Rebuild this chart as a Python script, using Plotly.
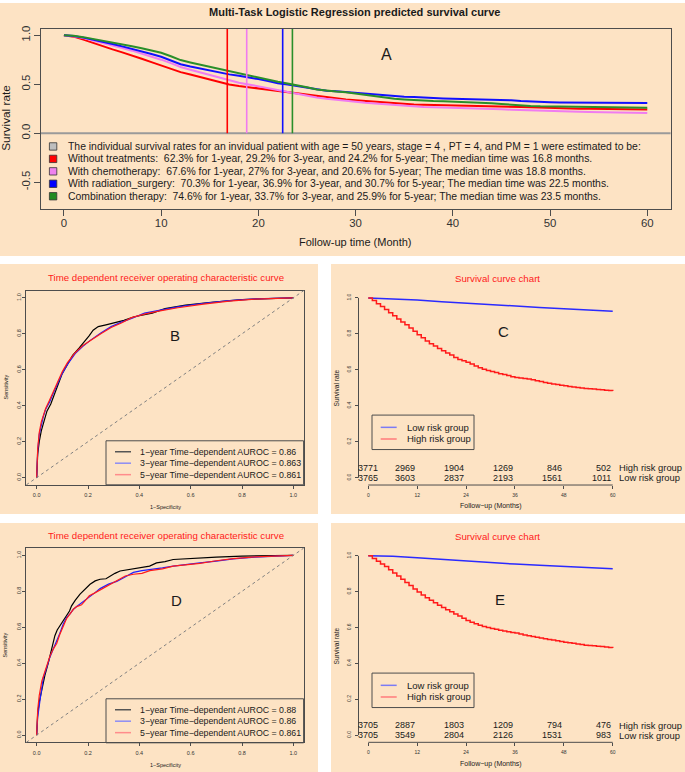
import plotly.graph_objects as go

W, H = 685, 772
FONT = "Liberation Sans, Arial, Helvetica, sans-serif"
BISQUE = "#FDE3C4"
AXC = "#4d4d4d"
TXT = "#1a1a1a"

# ---------------- Panel A data ----------------
months = list(range(61))
surv_none = [1.000, 0.985, 0.955, 0.920, 0.885, 0.855, 0.825, 0.795, 0.760, 0.725, 0.690, 0.655, 0.623,
             0.598, 0.573, 0.548, 0.522, 0.497, 0.482, 0.469, 0.457, 0.445, 0.432, 0.420, 0.408, 0.393,
             0.375, 0.362, 0.352, 0.343, 0.336, 0.328, 0.320, 0.312, 0.305, 0.298, 0.292, 0.290, 0.288,
             0.287, 0.286, 0.285, 0.284, 0.282, 0.280, 0.276, 0.272, 0.268, 0.264, 0.260, 0.256, 0.253,
             0.251, 0.250, 0.249, 0.248, 0.247, 0.246, 0.245, 0.243, 0.242]
surv_chemo = [1.000, 0.990, 0.972, 0.948, 0.922, 0.896, 0.870, 0.842, 0.813, 0.783, 0.750, 0.715, 0.676,
              0.648, 0.620, 0.592, 0.565, 0.540, 0.515, 0.497, 0.478, 0.460, 0.440, 0.418, 0.398, 0.380,
              0.365, 0.352, 0.340, 0.330, 0.320, 0.310, 0.302, 0.295, 0.287, 0.278, 0.270, 0.268, 0.266,
              0.264, 0.262, 0.260, 0.258, 0.255, 0.250, 0.245, 0.240, 0.236, 0.232, 0.228, 0.224, 0.222,
              0.220, 0.218, 0.216, 0.214, 0.212, 0.210, 0.209, 0.208, 0.206]
surv_rad = [1.000, 0.992, 0.975, 0.955, 0.933, 0.910, 0.886, 0.862, 0.836, 0.808, 0.780, 0.742, 0.703,
            0.680, 0.658, 0.638, 0.618, 0.600, 0.585, 0.570, 0.552, 0.532, 0.510, 0.497, 0.480, 0.460,
            0.442, 0.432, 0.428, 0.420, 0.410, 0.400, 0.392, 0.385, 0.378, 0.373, 0.369, 0.362, 0.357,
            0.355, 0.352, 0.350, 0.348, 0.346, 0.344, 0.340, 0.335, 0.328, 0.322, 0.318, 0.316, 0.314,
            0.313, 0.312, 0.312, 0.311, 0.310, 0.309, 0.309, 0.308, 0.307]
surv_combo = [1.000, 0.994, 0.980, 0.963, 0.945, 0.927, 0.908, 0.888, 0.866, 0.843, 0.820, 0.785, 0.746,
              0.722, 0.700, 0.678, 0.655, 0.632, 0.612, 0.590, 0.568, 0.545, 0.525, 0.508, 0.490, 0.468,
              0.445, 0.432, 0.425, 0.418, 0.405, 0.390, 0.375, 0.360, 0.352, 0.345, 0.337, 0.332, 0.328,
              0.325, 0.322, 0.318, 0.314, 0.310, 0.305, 0.298, 0.290, 0.283, 0.278, 0.274, 0.272, 0.270,
              0.269, 0.268, 0.267, 0.266, 0.265, 0.263, 0.262, 0.260, 0.259]
medians = [16.8, 18.8, 22.5, 23.5]
a_colors = ["#FF0000", "#F07CF0", "#1010FF", "#2A8F2A"]
a_legend_colors = ["#BEBEBE", "#FF0000", "#EE82EE", "#0000FF", "#228B22"]
a_legend_text = [
    "The individual survival rates for an invidual patient with age = 50 years, stage = 4 , PT = 4, and PM = 1 were estimated to be:",
    "Without treatments:  62.3% for 1-year, 29.2% for 3-year, and 24.2% for 5-year; The median time was 16.8 months.",
    "With chemotherapy:  67.6% for 1-year, 27% for 3-year, and 20.6% for 5-year; The median time was 18.8 months.",
    "With radiation_surgery:  70.3% for 1-year, 36.9% for 3-year, and 30.7% for 5-year; The median time was 22.5 months.",
    "Combination therapy:  74.6% for 1-year, 33.7% for 3-year, and 25.9% for 5-year; The median time was 23.5 months.",
]

# ---------------- ROC data (B and D) ----------------
b1_fpr = [0, 0.004, 0.01, 0.018, 0.028, 0.04, 0.055, 0.07, 0.085, 0.1, 0.12, 0.14, 0.165, 0.19, 0.205,
          0.22, 0.24, 0.27, 0.3, 0.34, 0.38, 0.42, 0.45, 0.5, 0.58, 0.68, 0.8, 0.9, 1.0]
b1_tpr = [0, 0.13, 0.2, 0.26, 0.31, 0.37, 0.41, 0.47, 0.53, 0.58, 0.63, 0.68, 0.72, 0.76, 0.79,
          0.82, 0.84, 0.85, 0.86, 0.875, 0.895, 0.905, 0.915, 0.94, 0.96, 0.975, 0.99, 0.996, 1.0]
b3_fpr = [0, 0.004, 0.01, 0.018, 0.026, 0.035, 0.05, 0.065, 0.08, 0.1, 0.12, 0.15, 0.18, 0.21, 0.25,
          0.29, 0.33, 0.37, 0.42, 0.47, 0.55, 0.65, 0.75, 0.85, 1.0]
b3_tpr = [0, 0.15, 0.24, 0.3, 0.34, 0.38, 0.42, 0.47, 0.52, 0.58, 0.63, 0.69, 0.73, 0.765, 0.805,
          0.84, 0.865, 0.885, 0.915, 0.93, 0.95, 0.97, 0.985, 0.994, 1.0]
b5_fpr = [0, 0.004, 0.01, 0.018, 0.026, 0.035, 0.05, 0.065, 0.08, 0.1, 0.12, 0.15, 0.18, 0.21, 0.25,
          0.29, 0.33, 0.37, 0.42, 0.47, 0.55, 0.65, 0.75, 0.85, 1.0]
b5_tpr = [0, 0.16, 0.25, 0.31, 0.345, 0.385, 0.43, 0.48, 0.53, 0.59, 0.64, 0.695, 0.735, 0.765, 0.8,
          0.835, 0.86, 0.89, 0.91, 0.925, 0.945, 0.965, 0.982, 0.993, 1.0]
b_auc = ["0.86", "0.863", "0.861"]

d1_fpr = [0, 0.004, 0.01, 0.02, 0.032, 0.045, 0.052, 0.062, 0.071, 0.08, 0.091, 0.105, 0.117, 0.128,
          0.136, 0.15, 0.169, 0.19, 0.208, 0.228, 0.247, 0.27, 0.286, 0.305, 0.325, 0.36, 0.403, 0.44,
          0.467, 0.5, 0.532, 0.597, 0.7, 0.8, 0.9, 1.0]
d1_tpr = [0, 0.12, 0.184, 0.26, 0.332, 0.4, 0.443, 0.5, 0.553, 0.585, 0.609, 0.64, 0.664, 0.69,
          0.719, 0.75, 0.784, 0.815, 0.839, 0.858, 0.867, 0.87, 0.885, 0.9, 0.913, 0.922, 0.931, 0.94,
          0.958, 0.965, 0.977, 0.983, 0.99, 0.996, 0.998, 1.0]
d3_fpr = [0, 0.004, 0.012, 0.02, 0.026, 0.04, 0.052, 0.065, 0.078, 0.09, 0.104, 0.117, 0.13, 0.143,
          0.156, 0.18, 0.201, 0.225, 0.247, 0.28, 0.312, 0.345, 0.377, 0.41, 0.441, 0.49, 0.532, 0.58,
          0.636, 0.7, 0.766, 0.85, 0.92, 1.0]
d3_tpr = [0, 0.1, 0.184, 0.26, 0.32, 0.38, 0.435, 0.48, 0.52, 0.565, 0.62, 0.655, 0.675, 0.7,
          0.715, 0.74, 0.76, 0.79, 0.815, 0.84, 0.855, 0.88, 0.905, 0.915, 0.92, 0.93, 0.94, 0.95,
          0.958, 0.968, 0.98, 0.99, 0.995, 1.0]
d5_fpr = [0, 0.004, 0.01, 0.02, 0.03, 0.04, 0.052, 0.065, 0.078, 0.09, 0.104, 0.117, 0.13, 0.143,
          0.156, 0.175, 0.19, 0.205, 0.225, 0.25, 0.28, 0.312, 0.345, 0.377, 0.41, 0.441, 0.49, 0.532,
          0.58, 0.636, 0.7, 0.766, 0.85, 0.92, 1.0]
d5_tpr = [0, 0.14, 0.22, 0.3, 0.345, 0.39, 0.44, 0.48, 0.51, 0.56, 0.61, 0.65, 0.675, 0.7,
          0.715, 0.725, 0.75, 0.775, 0.79, 0.81, 0.835, 0.86, 0.885, 0.895, 0.9, 0.915, 0.925, 0.94,
          0.948, 0.955, 0.97, 0.982, 0.992, 0.996, 1.0]
d_auc = ["0.88", "0.86", "0.861"]
roc_colors = ["#000000", "#2020FF", "#FF1A1A"]
roc_leg_colors = ["#555555", "#8C8CF5", "#FF8C8C"]
roc_years = ["1", "3", "5"]

# ---------------- Survival by risk group (C and E) ----------------
c_high = [1.000, 0.985, 0.968, 0.952, 0.935, 0.918, 0.900, 0.883, 0.866, 0.850, 0.833, 0.815, 0.795,
          0.778, 0.760, 0.745, 0.732, 0.718, 0.706, 0.694, 0.682, 0.668, 0.658, 0.650, 0.642, 0.632,
          0.622, 0.612, 0.604, 0.597, 0.591, 0.585, 0.579, 0.574, 0.568, 0.562, 0.558, 0.555, 0.552,
          0.549, 0.545, 0.540, 0.535, 0.530, 0.526, 0.522, 0.518, 0.514, 0.511, 0.508, 0.505, 0.502,
          0.499, 0.497, 0.495, 0.493, 0.491, 0.489, 0.487, 0.485, 0.483]
e_high = [1.000, 0.985, 0.970, 0.955, 0.940, 0.922, 0.905, 0.888, 0.870, 0.852, 0.835, 0.815, 0.798,
          0.782, 0.766, 0.752, 0.738, 0.725, 0.712, 0.700, 0.688, 0.676, 0.664, 0.652, 0.640, 0.630,
          0.621, 0.613, 0.606, 0.600, 0.595, 0.590, 0.585, 0.581, 0.577, 0.573, 0.569, 0.564, 0.559,
          0.555, 0.550, 0.546, 0.542, 0.538, 0.534, 0.530, 0.526, 0.522, 0.518, 0.515, 0.512, 0.508,
          0.505, 0.502, 0.500, 0.498, 0.496, 0.494, 0.491, 0.489, 0.486]
low_t = [0, 6, 12, 18, 24, 30, 36, 42, 48, 54, 60]
c_low = [1.000, 0.995, 0.988, 0.979, 0.970, 0.962, 0.955, 0.947, 0.940, 0.933, 0.926]
e_low = [1.000, 0.998, 0.990, 0.980, 0.970, 0.961, 0.954, 0.947, 0.941, 0.935, 0.928]
risk_t = [0, 12, 24, 36, 48, 60]
c_risk_high = [3771, 2969, 1904, 1269, 846, 502]
c_risk_low = [3765, 3603, 2837, 2193, 1561, 1011]
e_risk_high = [3705, 2887, 1803, 1209, 794, 476]
e_risk_low = [3705, 3549, 2804, 2126, 1531, 983]
group_names = ["Low risk group", "High risk group"]


def px(x):
    return x / W


def py(y):
    return 1 - y / H


fig = go.Figure()

# Panel A traces
for ys, col in zip([surv_none, surv_chemo, surv_rad, surv_combo], a_colors):
    fig.add_trace(go.Scatter(x=months, y=ys, mode="lines", line=dict(color=col, width=2),
                             xaxis="x", yaxis="y", hoverinfo="skip"))
for m, col in zip(medians, a_colors):
    fig.add_trace(go.Scatter(x=[m, m], y=[0, 1.064], mode="lines", line=dict(color=col, width=1.6),
                             xaxis="x", yaxis="y", hoverinfo="skip"))

# ROC traces
for ax, sets in [("2", [(b1_fpr, b1_tpr), (b3_fpr, b3_tpr), (b5_fpr, b5_tpr)]),
                 ("4", [(d1_fpr, d1_tpr), (d3_fpr, d3_tpr), (d5_fpr, d5_tpr)])]:
    for (fx, ty), col in zip(sets, roc_colors):
        fig.add_trace(go.Scatter(x=fx, y=ty, mode="lines", line=dict(color=col, width=1.2),
                                 xaxis="x" + ax, yaxis="y" + ax, hoverinfo="skip"))

# Survival by risk traces
for ax, lo, hi in [("3", c_low, c_high), ("5", e_low, e_high)]:
    fig.add_trace(go.Scatter(x=low_t, y=lo, mode="lines", line=dict(color="#2A2AFF", width=1.5),
                             xaxis="x" + ax, yaxis="y" + ax, hoverinfo="skip"))
    fig.add_trace(go.Scatter(x=months, y=hi, mode="lines", line=dict(color="#FF1A1A", width=1.5, shape="hv"),
                             xaxis="x" + ax, yaxis="y" + ax, hoverinfo="skip"))

shapes = []
# panel backgrounds
for x0, y0, x1, y1 in [(0, 0, 685, 254), (0, 262, 318, 513), (331, 262, 685, 513),
                       (0, 522, 318, 772), (331, 522, 685, 772)]:
    shapes.append(dict(type="rect", xref="paper", yref="paper", x0=px(x0), x1=px(x1), y0=py(y1), y1=py(y0),
                       fillcolor=BISQUE, line=dict(width=0), layer="below"))
# A zero line
shapes.append(dict(type="line", xref="x domain", yref="y", x0=0, x1=1, y0=0, y1=0,
                   line=dict(color="#9a9a9a", width=2), layer="below"))
# diagonals in ROC panels
for ax in ["2", "4"]:
    shapes.append(dict(type="line", xref="x%s domain" % ax, yref="y%s domain" % ax, x0=0, y0=0, x1=1, y1=1,
                       line=dict(color="#808080", width=1, dash="dot")))
# axis lines for C/E (R style: span tick range)
for ax in ["3", "5"]:
    shapes.append(dict(type="line", xref="x" + ax, yref="y%s domain" % ax, x0=0, x1=60, y0=0, y1=0,
                       line=dict(color=AXC, width=1)))
    shapes.append(dict(type="line", xref="x%s domain" % ax, yref="y" + ax, x0=0, x1=0, y0=0, y1=1,
                       line=dict(color=AXC, width=1)))

annotations = []


def ann(x, y, text, size, color=TXT, xanchor="center", angle=0, bold=False, xref="paper", yref="paper"):
    t = "<b>%s</b>" % text if bold else text
    annotations.append(dict(x=px(x) if xref == "paper" else x, y=py(y) if yref == "paper" else y,
                            xref=xref, yref=yref, text=t, showarrow=False, xanchor=xanchor, yanchor="middle",
                            textangle=angle, font=dict(family=FONT, size=size, color=color)))


# Panel A texts
ann(354, 9, "Multi-Task Logistic Regression predicted survival curve", 11, bold=True)
ann(386.6, 52, "A", 16)
ann(6.5, 115.7, "Survival rate", 11.8, angle=-90)
ann(355, 240, "Follow-up time (Month)", 11)
a_rows = [144, 156.5, 169, 181.5, 194]
for yrow, txt, col in zip(a_rows, a_legend_text, a_legend_colors):
    ann(66, yrow, txt, 10.4, xanchor="left")
    shapes.append(dict(type="rect", xref="paper", yref="paper", x0=px(49.4), x1=px(56.8),
                       y0=py(yrow + 3.7), y1=py(yrow - 3.7), fillcolor=col, line=dict(color="#333333", width=0.8)))

# ROC panel texts
for dy, letter, lpos, aucs in [(0, "B", (174.5, 333.3), b_auc), (259, "D", (176, 600), d_auc)]:
    ann(165.5, 276 + dy, "Time dependent receiver operating characteristic curve", 9.7, color="#FF1A1A")
    ann(lpos[0], lpos[1], letter, 15)
    ann(5, 386 + dy, "Sensitivity", 5.5, angle=-90)
    ann(165, 505.5 + dy, "1\u2212Specificity", 5.5)
    top = 439.5 + dy
    shapes.append(dict(type="rect", xref="paper", yref="paper", x0=px(106), x1=px(303.6),
                       y0=py(483.7 + dy), y1=py(top), line=dict(color=AXC, width=1)))
    for i, (yr, auc, col) in enumerate(zip(roc_years, aucs, roc_leg_colors)):
        yrow = 450.5 + dy + i * 11.5
        shapes.append(dict(type="line", xref="paper", yref="paper", x0=px(115), x1=px(131),
                           y0=py(yrow), y1=py(yrow), line=dict(color=col, width=1.5)))
        ann(138, yrow, "%s\u2212year Time\u2212dependent AUROC = %s" % (yr, auc), 8.8, xanchor="left")

# Survival panel texts
for dy, letter, lpos, ax, rh, rl in [(0, "C", (503.5, 329.3), "3", c_risk_high, c_risk_low),
                                     (259, "E", (500, 599), "5", e_risk_high, e_risk_low)]:
    ann(497, 276.5 + dy, "Survival curve chart", 9.7, color="#FF1A1A")
    ann(lpos[0], lpos[1], letter, 15)
    ann(336.5, 386.5 + dy, "Survival rate", 6.6, angle=-90)
    ann(490.5, 505 + dy, "Follow\u2212up (Months)", 7)
    shapes.append(dict(type="rect", xref="paper", yref="paper", x0=px(372), x1=px(474),
                       y0=py(448.3 + dy), y1=py(413.7 + dy), line=dict(color=AXC, width=1)))
    for i, (name, col) in enumerate(zip(group_names, ["#7B7BF5", "#FF7B7B"])):
        yrow = 426 + dy + i * 11.7
        shapes.append(dict(type="line", xref="paper", yref="paper", x0=px(380.7), x1=px(396.7),
                           y0=py(yrow), y1=py(yrow), line=dict(color=col, width=1.5)))
        ann(405, yrow, name, 9.5, xanchor="left")
    for row_vals, yv, label in [(rh, 0.055, "High risk group"), (rl, 0.0, "Low risk group")]:
        for j, (t, v) in enumerate(zip(risk_t, row_vals)):
            annotations.append(dict(x=t, y=yv, xref="x" + ax, yref="y" + ax, text=str(v), showarrow=False,
                                    xanchor="center" if j == 0 else "right", yanchor="middle",
                                    font=dict(family=FONT, size=9, color=TXT)))
        annotations.append(dict(x=61.1, y=yv, xref="x" + ax, yref="y" + ax, text=label, showarrow=False,
                                xanchor="left", yanchor="middle", font=dict(family=FONT, size=9.4, color=TXT)))


def axis_common(size, ticklen, standoff):
    return dict(showgrid=False, zeroline=False, ticks="outside", ticklen=ticklen, tickwidth=1,
                tickcolor=AXC, tickfont=dict(family=FONT, size=size, color="#333333"),
                ticklabelstandoff=standoff, fixedrange=True)


frac = [0, 0.2, 0.4, 0.6, 0.8, 1.0]
frac_txt = ["0.0", "0.2", "0.4", "0.6", "0.8", "1.0"]
mon_ticks = [0, 12, 24, 36, 48, 60]

layout = dict(
    width=W, height=H, autosize=False, margin=dict(l=0, r=0, t=0, b=0),
    paper_bgcolor="white", plot_bgcolor="rgba(0,0,0,0)", showlegend=False,
    shapes=shapes, annotations=annotations,
    xaxis=dict(domain=[px(40.6), px(670.6)], range=[-2.4, 62.4], anchor="y",
               tickvals=[0, 10, 20, 30, 40, 50, 60], showline=True, mirror=True, linecolor=AXC,
               **axis_common(11.4, 6, -3)),
    yaxis=dict(domain=[py(207), py(26)], range=[-0.775, 1.064], anchor="x",
               tickvals=[-0.5, 0, 0.5, 1.0], ticktext=["-0.5", "0.0", "0.5", "1.0"], tickangle=-90,
               showline=True, mirror=True, linecolor=AXC, **axis_common(11.4, 6, -1)),
    xaxis2=dict(domain=[px(26.4), px(303.6)], range=[-0.04, 1.04], anchor="y2", tickvals=frac,
                ticktext=frac_txt, showline=True, mirror=True, linecolor=AXC, **axis_common(5.5, 3, 2)),
    yaxis2=dict(domain=[py(483.7), py(288.8)], range=[-0.04, 1.04], anchor="x2", tickvals=frac,
                ticktext=frac_txt, tickangle=-90, showline=True, mirror=True, linecolor=AXC,
                **axis_common(5.5, 3, -1)),
    xaxis4=dict(domain=[px(26.4), px(303.6)], range=[-0.04, 1.04], anchor="y4", tickvals=frac,
                ticktext=frac_txt, showline=True, mirror=True, linecolor=AXC, **axis_common(5.5, 3, 2)),
    yaxis4=dict(domain=[py(742.2), py(547.3)], range=[-0.04, 1.04], anchor="x4", tickvals=frac,
                ticktext=frac_txt, tickangle=-90, showline=True, mirror=True, linecolor=AXC,
                **axis_common(5.5, 3, -1)),
    xaxis3=dict(domain=[px(358.5), px(622.5)], range=[-2.4, 62.4], anchor="y3", tickvals=mon_ticks,
                showline=False, **axis_common(5, 3, 2)),
    yaxis3=dict(domain=[py(483.9), py(288.8)], range=[-0.04, 1.04], anchor="x3", tickvals=frac,
                ticktext=frac_txt, tickangle=-90, showline=False, **axis_common(5, 3, 2)),
    xaxis5=dict(domain=[px(358.5), px(622.5)], range=[-2.4, 62.4], anchor="y5", tickvals=mon_ticks,
                showline=False, **axis_common(5, 3, 2)),
    yaxis5=dict(domain=[py(742.2), py(547.8)], range=[-0.04, 1.04], anchor="x5", tickvals=frac,
                ticktext=frac_txt, tickangle=-90, showline=False, **axis_common(5, 3, 2)),
)
fig.update_layout(**layout)
fig.write_html("out.html", config={"displayModeBar": False},
               post_script="document.body.style.margin='0';document.body.style.padding='0';")
